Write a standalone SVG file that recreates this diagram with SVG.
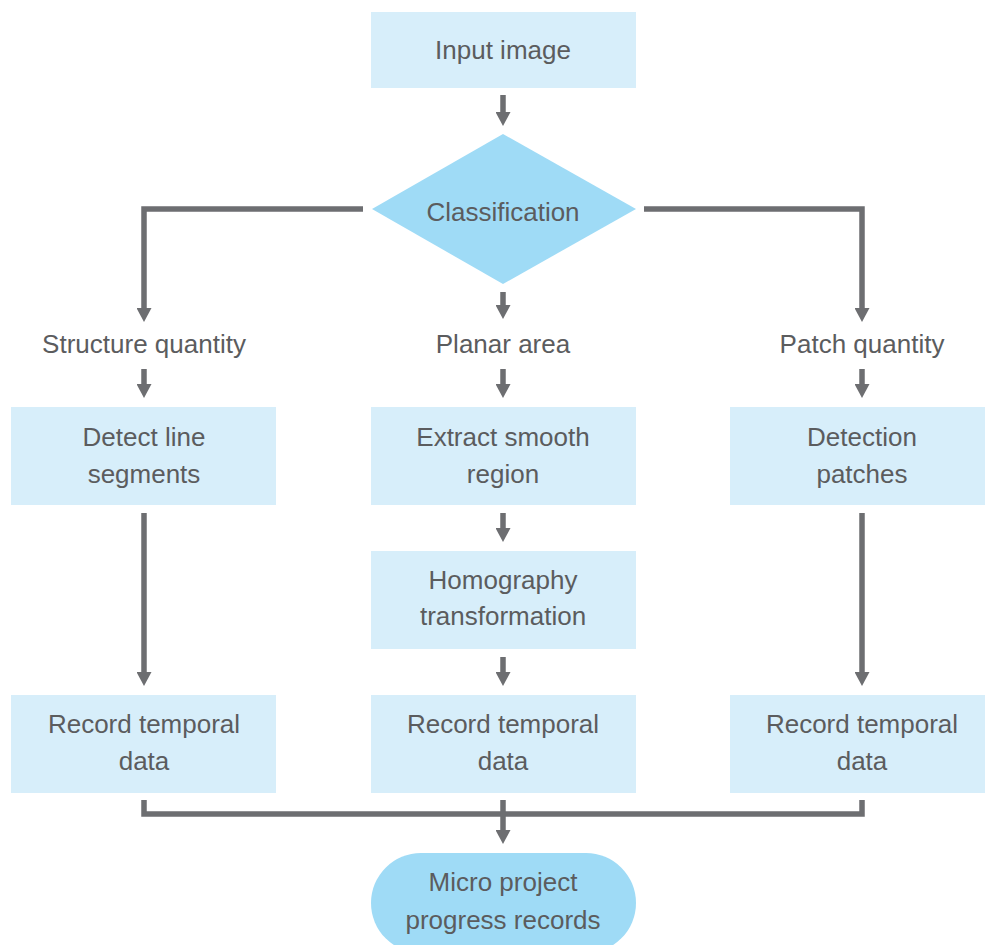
<svg xmlns="http://www.w3.org/2000/svg" width="985" height="945" viewBox="0 0 985 945">
<defs>
<style>
.box{fill:#d7eefa}
.hl{fill:#9fdbf6}
.t{font-family:"Liberation Sans",Arial,sans-serif;font-size:26px;fill:#5b5c5e;text-anchor:middle}
.c{fill:none;stroke:#6d6e71;stroke-width:5.5}
</style>
<marker id="ah" markerWidth="15" markerHeight="15" refX="4" refY="7.5" orient="auto" markerUnits="userSpaceOnUse">
<path d="M0,0 L14,7.5 L0,15 Z" fill="#6d6e71"/>
</marker>
</defs>
<rect width="985" height="945" fill="#ffffff"/>
<g id="connectors">
<path class="c" d="M503,95 V116" marker-end="url(#ah)"/>
<path class="c" d="M363,209 H144 V312" marker-end="url(#ah)"/>
<path class="c" d="M644,209 H862 V312" marker-end="url(#ah)"/>
<path class="c" d="M503,292 V309" marker-end="url(#ah)"/>
<path class="c" d="M144,369 V388" marker-end="url(#ah)"/>
<path class="c" d="M503,369 V388" marker-end="url(#ah)"/>
<path class="c" d="M862,369 V388" marker-end="url(#ah)"/>
<path class="c" d="M144,513 V676" marker-end="url(#ah)"/>
<path class="c" d="M862,513 V676" marker-end="url(#ah)"/>
<path class="c" d="M503,513 V532" marker-end="url(#ah)"/>
<path class="c" d="M503,657 V676" marker-end="url(#ah)"/>
<path class="c" d="M144,800 V814 H862 V800"/>
<path class="c" d="M503,800 V834" marker-end="url(#ah)"/>
</g>
<g id="input"><rect class="box" x="371" y="12" width="265" height="76"/><text class="t" x="503" y="59">Input image</text></g>
<g id="classification"><polygon class="hl" points="372,209 503,134 636,209 503,284"/><text class="t" x="503" y="221">Classification</text></g>
<g id="label-structure"><text class="t" x="144" y="353">Structure quantity</text></g>
<g id="label-planar"><text class="t" x="503" y="353">Planar area</text></g>
<g id="label-patch"><text class="t" x="862" y="353">Patch quantity</text></g>
<g id="detect-lines"><rect class="box" x="11" y="407" width="265" height="98"/><text class="t" x="144" y="446">Detect line</text><text class="t" x="144" y="483">segments</text></g>
<g id="extract"><rect class="box" x="371" y="407" width="265" height="98"/><text class="t" x="503" y="446">Extract smooth</text><text class="t" x="503" y="483">region</text></g>
<g id="detect-patches"><rect class="box" x="730" y="407" width="265" height="98"/><text class="t" x="862" y="446">Detection</text><text class="t" x="862" y="483">patches</text></g>
<g id="homography"><rect class="box" x="371" y="551" width="265" height="98"/><text class="t" x="503" y="589">Homography</text><text class="t" x="503" y="625">transformation</text></g>
<g id="record-left"><rect class="box" x="11" y="695" width="265" height="98"/><text class="t" x="144" y="733">Record temporal</text><text class="t" x="144" y="770">data</text></g>
<g id="record-center"><rect class="box" x="371" y="695" width="265" height="98"/><text class="t" x="503" y="733">Record temporal</text><text class="t" x="503" y="770">data</text></g>
<g id="record-right"><rect class="box" x="730" y="695" width="265" height="98"/><text class="t" x="862" y="733">Record temporal</text><text class="t" x="862" y="770">data</text></g>
<g id="records"><rect class="hl" x="371" y="853" width="265" height="100" rx="50"/><text class="t" x="503" y="891">Micro project</text><text class="t" x="503" y="929">progress records</text></g>
</svg>
